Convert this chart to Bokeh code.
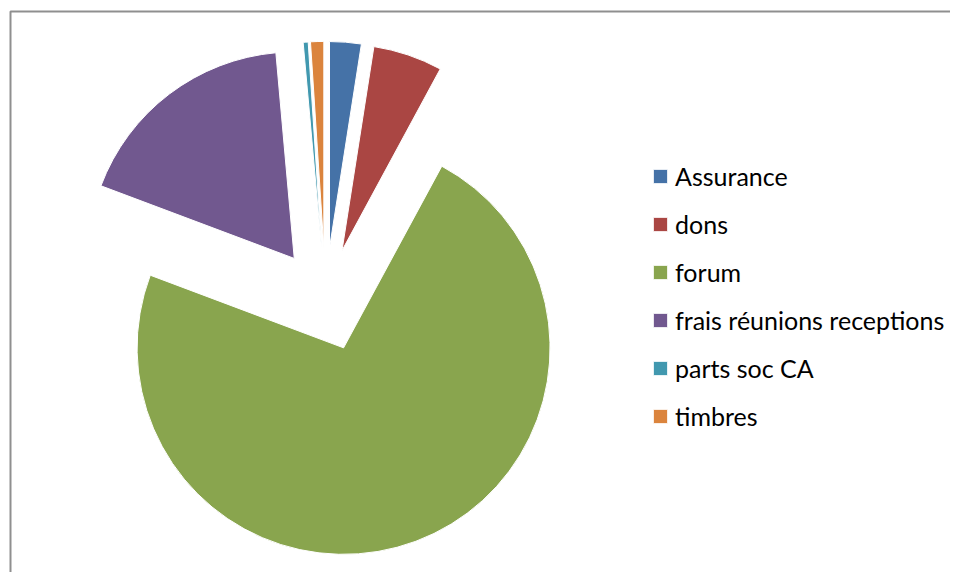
import numpy as np
from bokeh.plotting import figure
from bokeh.models import Range1d, Legend, LegendItem, ColumnDataSource
from bokeh.embed import file_html
from bokeh.resources import INLINE

categories = ["Assurance", "dons", "forum", "frais réunions receptions", "parts soc CA", "timbres"]
values = [247, 542, 7283, 1786, 39, 103]
colors = ["#4572A7", "#AA4643", "#89A54E", "#71588F", "#4198AF", "#DB843D"]

W, H = 950, 572
p = figure(width=W, height=H, output_backend="svg", toolbar_location=None,
           x_range=Range1d(0, W), y_range=Range1d(0, H), min_border=0,
           outline_line_color=None, background_fill_color="white")
p.axis.visible = False
p.grid.visible = False

# chart border (left and top edges visible)
p.line([10, 10, W + 10], [-10, 561, 561], line_color="#8f8f8f", line_width=2)

cx, cy, r, explode = 325.0, 273.0, 206.5, 51.6
vals = np.array(values, dtype=float)
frac = vals / vals.sum()
cum = np.concatenate([[0.0], np.cumsum(frac)]) * 2 * np.pi
t0, t1 = cum[:-1], cum[1:]
mid = (t0 + t1) / 2
src = ColumnDataSource(dict(
    x=cx + explode * np.sin(mid),
    y=cy + explode * np.cos(mid),
    start=np.pi / 2 - t0,
    end=np.pi / 2 - t1,
    color=colors,
    cat=categories,
))
rend = p.wedge(x="x", y="y", radius=r, start_angle="start", end_angle="end",
               direction="clock", fill_color="color", line_color="white",
               line_width=1, source=src)
legend = Legend(items=[LegendItem(label=c, renderers=[rend], index=i) for i, c in enumerate(categories)],
                location=(651, 141), orientation="vertical",
                glyph_width=18, glyph_height=18, label_standoff=6, spacing=18,
                padding=0, margin=0, border_line_color=None, background_fill_alpha=0,
                label_text_font="Lato", label_text_font_size="25px", label_text_color="#000000")
p.add_layout(legend, "center")

open("out.html", "w").write(file_html(p, INLINE))
